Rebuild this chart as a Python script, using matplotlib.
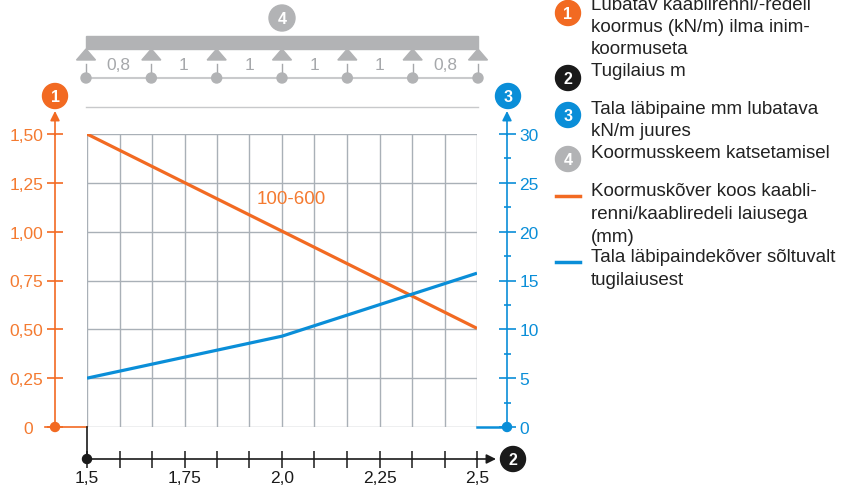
import numpy as np
import matplotlib.pyplot as plt
from matplotlib.patches import Circle, Rectangle, Polygon

plt.rcParams["font.family"] = ["Liberation Sans", "DejaVu Sans"]

# --- data ---
span_load = [1.5, 2.5]            # m
load_kn = [1.50, 0.505]           # kN/m, curve "100-600"
span_defl = [1.5, 2.0, 2.5]       # m
defl_mm = [5.0, 9.3, 15.75]       # mm
curve_label = "100-600"

x_ticks = np.linspace(1.5, 2.5, 13)
x_labels = ["1,5", "", "", "1,75", "", "", "2,0", "", "", "2,25", "", "", "2,5"]
load_ticks = [0, 0.25, 0.5, 0.75, 1.0, 1.25, 1.5]
load_labels = ["0", "0,25", "0,50", "0,75", "1,00", "1,25", "1,50"]
defl_ticks = [0, 5, 10, 15, 20, 25, 30]
defl_labels = ["0", "5", "10", "15", "20", "25", "30"]
scheme_spans = ["0,8", "1", "1", "1", "1", "0,8"]

legend_items = [
    ("badge", "1", ["Lubatav kaablirenni/-redeli", "koormus (kN/m) ilma inim-", "koormuseta"]),
    ("badge", "2", ["Tugilaius m"]),
    ("badge", "3", ["Tala läbipaine mm lubatava", "kN/m juures"]),
    ("badge", "4", ["Koormusskeem katsetamisel"]),
    ("line", "orange", ["Koormuskõver koos kaabli-", "renni/kaabliredeli laiusega", "(mm)"]),
    ("line", "blue", ["Tala läbipaindekõver sõltuvalt", "tugilaiusest"]),
]

ORANGE = "#f26a22"
ORANGE_TXT = "#f47a30"
BLUE = "#0a8ed8"
GRAY = "#b2b3b5"
BLACK = "#1a1a1a"
GRID = "#a9b0b7"
PT = 0.72  # points per pixel at dpi 100

fig = plt.figure(figsize=(8.46, 4.89), dpi=100)
ax = fig.add_axes([87 / 846, 61 / 489, 390 / 846, 293 / 489])
ax.patch.set_alpha(0)

ax.plot(span_load, load_kn, color=ORANGE, lw=2.3, solid_capstyle="butt", zorder=3)
ax.text(1.936, 1.17, curve_label, color=ORANGE_TXT, fontsize=13.5, ha="left", va="center")

ax.set_xlim(1.5, 2.5)
ax.set_ylim(0, 1.5)
ax.set_xticks(x_ticks)
ax.set_xticklabels(x_labels)
ax.set_yticks(load_ticks)
# the zero label sits a little further left in the original
ax.set_yticklabels([load_labels[0] + "  "] + load_labels[1:])
ax.grid(True, color=GRID, lw=1.0)
ax.set_axisbelow(True)

for s in ["top", "right"]:
    ax.spines[s].set_visible(False)
ax.spines["left"].set_position(("outward", 32 * PT))
ax.spines["left"].set_bounds(0, 1.5)
ax.spines["left"].set_color(ORANGE)
ax.spines["left"].set_linewidth(1.2)
ax.spines["bottom"].set_position(("outward", 32 * PT))
ax.spines["bottom"].set_bounds(1.5, 2.5)
ax.spines["bottom"].set_color(BLACK)
ax.spines["bottom"].set_linewidth(1.2)
ax.tick_params(axis="y", direction="inout", length=16 * PT, width=1.2, color=ORANGE,
               labelcolor=ORANGE_TXT, labelsize=12.5, pad=4 * PT)
ax.tick_params(axis="x", direction="inout", length=17 * PT, width=1.1, color=BLACK,
               labelcolor=BLACK, labelsize=12.5, pad=3 * PT)

ax2 = ax.twinx()
ax2.patch.set_alpha(0)
ax2.plot(span_defl, defl_mm, color=BLUE, lw=2.3, solid_capstyle="butt", zorder=3)
ax2.set_ylim(0, 30)
ax2.set_yticks(defl_ticks)
ax2.set_yticklabels(defl_labels)
ax2.set_yticks(np.arange(2.5, 30, 5), minor=True)
for s in ["top", "left", "bottom"]:
    ax2.spines[s].set_visible(False)
ax2.spines["right"].set_position(("outward", 30 * PT))
ax2.spines["right"].set_bounds(0, 30)
ax2.spines["right"].set_color(BLUE)
ax2.spines["right"].set_linewidth(1.2)
ax2.tick_params(axis="y", which="major", direction="inout", length=17 * PT, width=1.2,
                color=BLUE, labelcolor=BLUE, labelsize=12.5, pad=4 * PT)
ax2.tick_params(axis="y", which="minor", direction="inout", length=7 * PT, width=1.2, color=BLUE)

# overlay in pixel coordinates for arrows, badges, load scheme and legend
ov = fig.add_axes([0, 0, 1, 1], zorder=5)
ov.set_xlim(0, 846)
ov.set_ylim(489, 0)
ov.axis("off")
ov.patch.set_alpha(0)


def badge(x, y, num, color, r=12.5):
    ov.add_patch(Circle((x, y), r, color=color, zorder=6))
    ov.text(x, y + 0.5, num, color="white", ha="center", va="center", fontsize=11.5,
            fontweight="bold", zorder=7)


def arrow(x0, y0, x1, y1, color):
    ov.annotate("", xy=(x1, y1), xytext=(x0, y0),
                arrowprops=dict(arrowstyle="-|>", color=color, lw=1.2, mutation_scale=14,
                                shrinkA=0, shrinkB=0))


# axis ends
arrow(55, 136, 55, 112, ORANGE)
arrow(507, 136, 507, 112, BLUE)
arrow(476, 460, 496, 460, BLACK)
ov.plot([45, 87], [428, 428], color=ORANGE, lw=1.2)
ov.add_patch(Circle((55, 428), 4.5, color=ORANGE, zorder=6))
ov.plot([477, 507], [428, 428], color=BLUE, lw=1.8)
ov.add_patch(Circle((507, 428), 4.5, color=BLUE, zorder=6))
ov.plot([87, 87], [428, 460], color=BLACK, lw=1.2)
ov.add_patch(Circle((87, 460), 4.5, color=BLACK, zorder=6))
badge(55, 97, "1", ORANGE)
badge(508, 97, "3", BLUE)
badge(513, 460, "2", BLACK)

# load scheme
badge(282, 19, "4", GRAY, r=13)
ov.add_patch(Rectangle((86, 37), 392, 13, color=GRAY))
supports = np.linspace(86, 478, len(scheme_spans) + 1)
ov.plot([86, 478], [79, 79], color="#c9cacc", lw=1.5)
for sx in supports:
    ov.add_patch(Polygon([(sx - 9.5, 61), (sx + 9.5, 61), (sx, 50)], color=GRAY))
    ov.plot([sx, sx], [65, 75], color="#a6a8ab", lw=1)
    ov.add_patch(Circle((sx, 79), 5, color=GRAY, zorder=6))
for i, lab in enumerate(scheme_spans):
    ov.text((supports[i] + supports[i + 1]) / 2, 66, lab, color="#a6a8ab", fontsize=12.5,
            ha="center", va="center")
ov.plot([86, 478], [108, 108], color="#c8c9cb", lw=1)

# legend
legend_y = [5, 72, 109, 153, 192, 258]
badge_colors = {"1": ORANGE, "2": BLACK, "3": BLUE, "4": GRAY}
line_colors = {"orange": ORANGE, "blue": BLUE}
for (kind, key, lines), y0 in zip(legend_items, legend_y):
    if kind == "badge":
        badge(568, y0 + 9 if key == "1" else y0 + 7, key, badge_colors[key])
    else:
        ov.plot([556, 580], [y0 + 5, y0 + 5], color=line_colors[key], lw=2.5)
    for j, line in enumerate(lines):
        ov.text(591, y0 + j * 22.5, line, color="#222222", fontsize=13.5, ha="left", va="center")

fig.savefig("out.png", dpi=100)
